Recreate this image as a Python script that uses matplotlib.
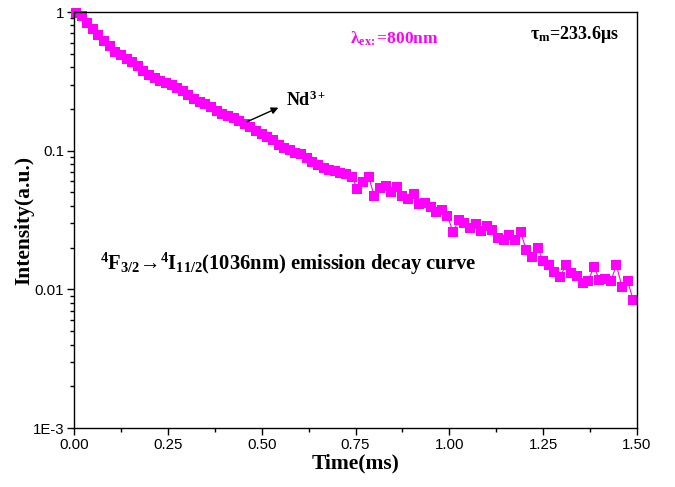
import matplotlib
matplotlib.use("Agg")
import matplotlib.pyplot as plt
from matplotlib.ticker import FixedLocator, LogLocator, NullFormatter

plt.rcParams['mathtext.fontset'] = 'custom'
plt.rcParams['mathtext.rm'] = 'Liberation Serif:bold'
plt.rcParams['mathtext.it'] = 'Liberation Serif:bold'
plt.rcParams['mathtext.bf'] = 'Liberation Serif:bold'

# time (ms)
time_ms = [0.005 + 0.015 * i for i in range(100)]
# normalized intensity (a.u.)
intensity = [
    0.98, 0.93, 0.83, 0.75, 0.68, 0.62, 0.57, 0.515, 0.486, 0.458,
    0.436, 0.411, 0.378, 0.354, 0.337, 0.320, 0.308, 0.296, 0.285, 0.269,
    0.254, 0.235, 0.225, 0.217, 0.207, 0.192, 0.184, 0.178, 0.172, 0.164,
    0.156, 0.147, 0.138, 0.132, 0.126, 0.119, 0.110, 0.105, 0.101, 0.097,
    0.095, 0.089, 0.083, 0.079, 0.075, 0.0726, 0.071, 0.069, 0.068, 0.065,
    0.053, 0.059, 0.065, 0.047, 0.054, 0.056, 0.050, 0.055, 0.047, 0.045,
    0.049, 0.041, 0.042, 0.039, 0.036, 0.0374, 0.0338, 0.0258, 0.0317, 0.030,
    0.0276, 0.0298, 0.0262, 0.0287, 0.0268, 0.0233, 0.0227, 0.0247, 0.0227, 0.0258,
    0.0192, 0.0170, 0.0199, 0.0160, 0.0150, 0.0133, 0.0122, 0.0150, 0.0131, 0.0125,
    0.0112, 0.0114, 0.0146, 0.0117, 0.0118, 0.0114, 0.0150, 0.0104, 0.0114, 0.0084,
]

x_ticks = [0.0, 0.25, 0.5, 0.75, 1.0, 1.25, 1.5]
x_tick_labels = ["0.00", "0.25", "0.50", "0.75", "1.00", "1.25", "1.50"]
y_ticks = [1e-3, 1e-2, 1e-1, 1]
y_tick_labels = ["1E-3", "0.01", "0.1", "1"]

MAG = "#ff00ff"
serif = ['Liberation Serif', 'DejaVu Serif']
sans = ['Liberation Sans', 'DejaVu Sans']

fig = plt.figure(figsize=(6.75, 4.87), dpi=100)
ax = fig.add_axes([74 / 675, 1 - 428 / 487, (637 - 74) / 675, (428 - 12) / 487])

ax.plot(time_ms, intensity, color=MAG, lw=0.8, marker='s', ms=7.5,
        markeredgewidth=0, clip_on=False)

ax.set_yscale('log')
ax.set_xlim(0, 1.5)
ax.set_ylim(1e-3, 1)

ax.xaxis.set_major_locator(FixedLocator(x_ticks))
ax.set_xticklabels(x_tick_labels)
ax.xaxis.set_minor_locator(FixedLocator([0.125, 0.375, 0.625, 0.875, 1.125, 1.375]))
ax.yaxis.set_major_locator(FixedLocator(y_ticks))
ax.set_yticklabels(y_tick_labels)
ax.yaxis.set_minor_locator(LogLocator(base=10, subs=range(2, 10)))
ax.yaxis.set_minor_formatter(NullFormatter())

ax.tick_params(which='major', direction='out', length=5, width=1.0,
               labelsize=10.8, top=False, right=False, pad=2)
ax.tick_params(which='minor', direction='out', length=3, width=1.0,
               top=False, right=False)
for lab in ax.get_xticklabels() + ax.get_yticklabels():
    lab.set_family(sans)
for sp in ax.spines.values():
    sp.set_linewidth(1.0)

ax.set_xlabel("Time(ms)", family=serif, fontweight='bold', fontsize=15.5, labelpad=1)
ax.set_ylabel("Intensity(a.u.)", family=serif, fontweight='bold', fontsize=15.5, labelpad=-1)

ax.text(0.49, 0.935, r"λ$_{\mathrm{ex}\!:}$=800nm", transform=ax.transAxes,
        color=MAG, family=serif, fontweight='bold', fontsize=12.5, va='center', ha='left')
ax.text(0.81, 0.945, r"τ$_{\mathrm{m}}$=233.6μs", transform=ax.transAxes,
        color='black', family=serif, fontweight='bold', fontsize=13, va='center', ha='left')
ax.text(0.377, 0.788, r"Nd$^{\mathrm{3+}}$", transform=ax.transAxes,
        family=serif, fontweight='bold', fontsize=13, va='center', ha='left')
ax.annotate("", xy=(0.363, 0.770), xytext=(0.307, 0.736),
            textcoords='axes fraction', xycoords='axes fraction',
            arrowprops=dict(arrowstyle='-|>', color='black', lw=1.0,
                            mutation_scale=10, shrinkA=0, shrinkB=0))
ax.text(0.046, 0.395,
        r"$^{\mathrm{4}}$F$_{\mathrm{3/2}}$→$^{\mathrm{4}}$I$_{\mathrm{11/2}}$(1036nm) emission decay curve",
        transform=ax.transAxes, color='black', family=serif, fontweight='bold',
        fontsize=14.8, va='center', ha='left')

fig.savefig("out.png", dpi=100)
